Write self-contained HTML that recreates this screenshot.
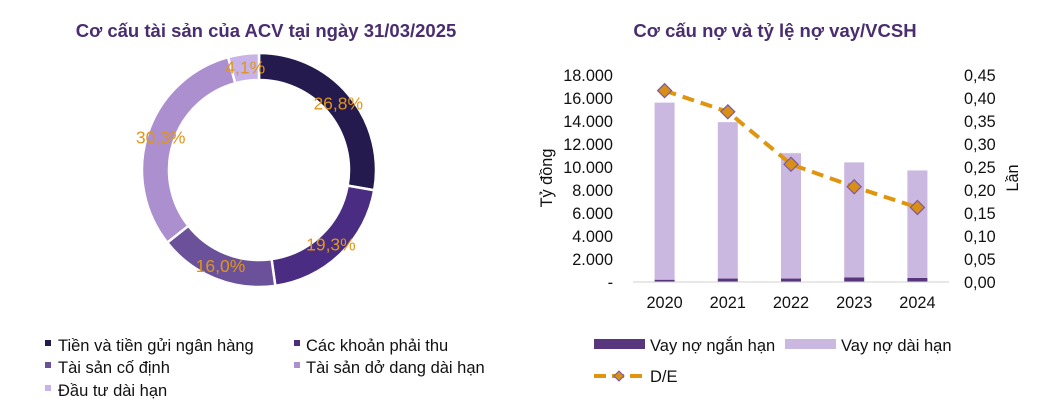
<!DOCTYPE html>
<html><head><meta charset="utf-8">
<style>
body{margin:0;background:#fff;}
svg{display:block;font-family:"Liberation Sans","DejaVu Sans",sans-serif;}
</style></head>
<body>
<svg id="c" width="1042" height="409" viewBox="0 0 1042 409">
<text x="266" y="37" text-anchor="middle" font-size="18.5" font-weight="bold" fill="#4a2d6e">Cơ cấu tài sản của ACV tại ngày 31/03/2025</text>
<text x="775" y="37" text-anchor="middle" font-size="18.5" font-weight="bold" fill="#4a2d6e">Cơ cấu nợ và tỷ lệ nợ vay/VCSH</text>
<g id="donut"></g>
<g id="bars"></g>
<g font-size="16.5" fill="#111">
 <rect x="45" y="340" width="6" height="6" fill="#241a4e"/><text x="58" y="351">Tiền và tiền gửi ngân hàng</text>
 <rect x="294" y="340" width="6" height="6" fill="#4a2d82"/><text x="306" y="351">Các khoản phải thu</text>
 <rect x="45" y="362" width="6" height="6" fill="#6a519a"/><text x="58" y="373">Tài sản cố định</text>
 <rect x="294" y="362" width="6" height="6" fill="#ab8fcf"/><text x="306" y="373">Tài sản dở dang dài hạn</text>
 <rect x="45" y="385" width="6" height="6" fill="#c7b3e8"/><text x="58" y="396">Đầu tư dài hạn</text>
</g>
<g font-size="16.5" fill="#111">
 <rect x="594" y="339" width="51" height="10" fill="#58367e"/><text x="650" y="351">Vay nợ ngắn hạn</text>
 <rect x="785" y="339" width="51" height="10" fill="#cbb8e0"/><text x="841" y="351">Vay nợ dài hạn</text>
 <line x1="594" y1="376" x2="645" y2="376" stroke="#e0950f" stroke-width="4" stroke-dasharray="12,6"/>
 <path d="M619 371 L624 376 L619 381 L614 376 Z" fill="#d98f14" stroke="#7a5aa8"/>
 <text x="650" y="382">D/E</text>
</g>
</svg>
<script>
const NS="http://www.w3.org/2000/svg";
const sliceLabels=["Tiền và tiền gửi ngân hàng","Các khoản phải thu","Tài sản cố định","Tài sản dở dang dài hạn","Đầu tư dài hạn"];
const sliceValues=[26.8,19.3,16.0,30.3,4.1];
const sliceText=["26,8%","19,3%","16,0%","30,3%","4,1%"];
const sliceColors=["#241a4e","#4a2d82","#6a519a","#ab8fcf","#c7b3e8"];
const years=["2020","2021","2022","2023","2024"];
const shortDebt=[200,300,300,400,350];
const longDebt=[15400,13600,10900,10000,9350];
const deRatio=[0.416,0.370,0.256,0.207,0.162];
const leftTicks=["-","2.000","4.000","6.000","8.000","10.000","12.000","14.000","16.000","18.000"];
const rightTicks=["0,00","0,05","0,10","0,15","0,20","0,25","0,30","0,35","0,40","0,45"];

function mk(tag,attrs,parent){const e=document.createElementNS(NS,tag);for(const k in attrs)e.setAttribute(k,attrs[k]);parent.appendChild(e);return e;}

const dg=document.getElementById("donut");
const cx=259,cy=170,R=117,r=90;
const total=sliceValues.reduce((a,b)=>a+b,0);
let ang=0;
sliceValues.forEach((v,i)=>{
 const a0=ang/total*2*Math.PI, a1=(ang+v)/total*2*Math.PI; ang+=v;
 const p=(a,rad)=>[cx+rad*Math.sin(a),cy-rad*Math.cos(a)];
 const large=(a1-a0)>Math.PI?1:0;
 const [x0,y0]=p(a0,R),[x1,y1]=p(a1,R),[x2,y2]=p(a1,r),[x3,y3]=p(a0,r);
 const path=mk("path",{d:`M${x0} ${y0} A${R} ${R} 0 ${large} 1 ${x1} ${y1} L${x2} ${y2} A${r} ${r} 0 ${large} 0 ${x3} ${y3} Z`,fill:sliceColors[i],stroke:"#fff","stroke-width":2.5},dg);
 
 
 const am=(a0+a1)/2,[lx,ly]=p(am,(R+r)/2);
 const t=mk("text",{x:lx,y:ly+6,"text-anchor":"middle","font-size":17.5,fill:"#e0951a"},dg);
 t.textContent=sliceText[i];
 
 
});

const bg=document.getElementById("bars");
const y0=282,yTop=75,x0a=633,x1a=949;
const yL=v=>y0-(v/18000)*(y0-yTop);
const yR=v=>y0-(v/0.45)*(y0-yTop);
const step=(x1a-x0a)/years.length;
const xC=i=>x0a+step*(i+0.5);
leftTicks.forEach((t,i)=>{
 const e=mk("text",{x:613,y:yL(i*2000)+6,"text-anchor":"end","font-size":16.3,fill:"#111"},bg);e.textContent=t;
 
 
});
rightTicks.forEach((t,i)=>{
 const e=mk("text",{x:964,y:yR(i*0.05)+6,"font-size":16.3,fill:"#111"},bg);e.textContent=t;
 
 
});
years.forEach((y,i)=>{
 const xc=xC(i),w=20;
 const s=mk("rect",{x:xc-w/2,y:yL(shortDebt[i]),width:w,height:y0-yL(shortDebt[i]),fill:"#58367e"},bg);
 
 
 const l=mk("rect",{x:xc-w/2,y:yL(shortDebt[i]+longDebt[i]),width:w,height:yL(shortDebt[i])-yL(shortDebt[i]+longDebt[i]),fill:"#cbb8e0"},bg);
 
 
 const t=mk("text",{x:xc,y:308,"text-anchor":"middle","font-size":16.3,fill:"#111"},bg);t.textContent=y;
 
 
});
const ax=mk("line",{x1:x0a,y1:y0,x2:x1a,y2:y0,stroke:"#d0d0d0","stroke-width":1},bg);


const pts=deRatio.map((v,i)=>xC(i)+","+yR(v)).join(" ");
const pl=mk("polyline",{points:pts,fill:"none",stroke:"#e0950f","stroke-width":4,"stroke-dasharray":"12,7"},bg);


deRatio.forEach((v,i)=>{
 const x=xC(i),y=yR(v);
 const m=mk("path",{d:`M${x} ${y-7} L${x+7} ${y} L${x} ${y+7} L${x-7} ${y} Z`,fill:"#d98f14",stroke:"#7a5aa8","stroke-width":1.2},bg);
 
 
});
const lt=mk("text",{transform:"translate(552,178) rotate(-90)","text-anchor":"middle","font-size":16.3,fill:"#111"},bg);lt.textContent="Tỷ đồng";


const rt=mk("text",{transform:"translate(1018,178) rotate(-90)","text-anchor":"middle","font-size":16.3,fill:"#111"},bg);rt.textContent="Lần";


</script>
</body></html>
